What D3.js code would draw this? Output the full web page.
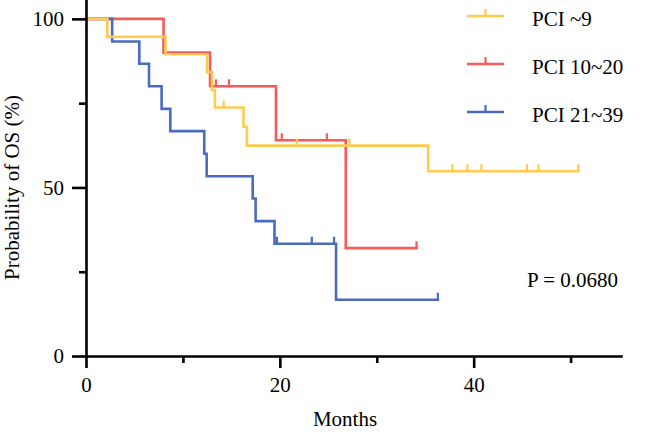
<!DOCTYPE html>
<html>
<head>
<meta charset="utf-8">
<script src="https://cdn.jsdelivr.net/npm/d3@7"></script>
<style>
  html, body { margin: 0; padding: 0; background: #fff; }
  svg { display: block; }
  text { font-family: "Liberation Serif", "Times New Roman", serif; fill: #000; }
</style>
</head>
<body>
<svg id="chart" width="646" height="435"></svg>
<script>
// ---- data ----
const groups = ["PCI ~9", "PCI 10~20", "PCI 21~39"];

// PCI ~9
const timesLow = [0, 2.2, 8.2, 12.5, 13.0, 13.3, 16.25, 16.6, 35.3, 50.8];
const survLow  = [100, 94.7, 89.5, 84.2, 78.9, 73.7, 68.0, 62.4, 54.8, 54.8];
const censorLow = [14.2, 21.75, 27.2, 37.8, 39.35, 40.8, 45.5, 46.7, 50.8];

// PCI 10~20
const timesMid = [0, 8.0, 12.8, 19.6, 26.8, 34.1];
const survMid  = [100, 90, 80, 64, 32, 32];
const censorMid = [13.4, 14.75, 20.2, 24.85, 34.1];

// PCI 21~39
const timesHigh = [0, 2.7, 5.5, 6.5, 7.8, 8.7, 12.2, 12.45, 17.2, 17.5, 19.45, 25.8, 36.3];
const survHigh  = [100, 93.3, 86.7, 80, 73.3, 66.7, 60, 53.3, 46.7, 40, 33.3, 16.7, 16.7];
const censorHigh = [19.7, 23.3, 25.6, 36.3];

const xMajorTicks = [0, 20, 40];
const xMinorTicks = [10, 30, 50];
const yMajorTicks = [0, 50, 100];
const yMinorTicks = [25, 75];

const pValueText = "P = 0.0680";
const xTitle = "Months";
const yTitle = "Probability of OS (%)";

// ---- layout ----
const colors = ["#FFCB4F", "#F65A5A", "#4A6BC0"];
const svg = d3.select("#chart");

const x = d3.scaleLinear().domain([0, 55.2]).range([86, 621]);
const y = d3.scaleLinear().domain([0, 105.6]).range([356, 0]);

const series = [
  {name: groups[0], times: timesLow, surv: survLow, censor: censorLow, color: colors[0]},
  {name: groups[1], times: timesMid, surv: survMid, censor: censorMid, color: colors[1]},
  {name: groups[2], times: timesHigh, surv: survHigh, censor: censorHigh, color: colors[2]}
];

// survival level at time t (step function)
function levelAt(s, t) {
  let v = s.surv[0];
  for (let i = 0; i < s.times.length; i++) {
    if (s.times[i] <= t + 1e-9) v = s.surv[i];
  }
  return v;
}

const line = d3.line()
  .x(d => x(d[0]))
  .y(d => y(d[1]))
  .curve(d3.curveStepAfter);

// draw order: red, blue, then yellow on top
const drawOrder = [1, 2, 0];
drawOrder.forEach(i => {
  const s = series[i];
  const pts = s.times.map((t, k) => [t, s.surv[k]]);
  const g = svg.append("g");
  g.append("path")
    .attr("d", line(pts))
    .attr("fill", "none")
    .attr("stroke", s.color)
    .attr("stroke-width", 2.6)
    .attr("stroke-linejoin", "miter")
    .attr("stroke-linecap", "square");
  g.selectAll("line.censor")
    .data(s.censor)
    .enter().append("line")
    .attr("class", "censor")
    .attr("x1", d => x(d)).attr("x2", d => x(d))
    .attr("y1", d => y(levelAt(s, d)))
    .attr("y2", d => y(levelAt(s, d)) - 7)
    .attr("stroke", s.color)
    .attr("stroke-width", 2.2);
});

// ---- axes ----
const axisFont = 21;

const xAxisMajor = d3.axisBottom(x).tickValues(xMajorTicks).tickSize(12).tickPadding(9).tickSizeOuter(0);
const xAxisMinor = d3.axisBottom(x).tickValues(xMinorTicks).tickSize(7).tickFormat("").tickSizeOuter(0);
const yAxisMajor = d3.axisLeft(y).tickValues(yMajorTicks).tickSize(14).tickPadding(8).tickSizeOuter(0);
const yAxisMinor = d3.axisLeft(y).tickValues(yMinorTicks).tickSize(7).tickFormat("").tickSizeOuter(0);

function styleAxis(g) {
  g.selectAll("path, line").attr("stroke", "#000").attr("stroke-width", 2.6);
  g.selectAll("text").style("font-size", axisFont + "px").attr("fill", "#000")
    .style("font-family", '"Liberation Serif", "Times New Roman", serif');
}

const gx = svg.append("g").attr("transform", `translate(0,${y(0)})`).call(xAxisMajor).call(styleAxis);
const gx2 = svg.append("g").attr("transform", `translate(0,${y(0)})`).call(xAxisMinor).call(styleAxis);
gx2.select(".domain").remove();
const gy = svg.append("g").attr("transform", `translate(${x(0)},0)`).call(yAxisMajor).call(styleAxis);
const gy2 = svg.append("g").attr("transform", `translate(${x(0)},0)`).call(yAxisMinor).call(styleAxis);
gy2.select(".domain").remove();
svg.selectAll(".domain").attr("stroke-linecap", "square");

// axis titles
svg.append("text")
  .attr("x", 345).attr("y", 426)
  .attr("text-anchor", "middle")
  .style("font-size", axisFont + "px")
  .text(xTitle);

svg.append("text")
  .attr("transform", `translate(19,${(y(0) + y(100)) / 2}) rotate(-90)`)
  .attr("text-anchor", "middle")
  .style("font-size", axisFont + "px")
  .text(yTitle);

// p-value
svg.append("text")
  .attr("x", 527).attr("y", 287)
  .style("font-size", axisFont + "px")
  .text(pValueText);

// ---- legend ----
const legend = svg.append("g");
series.forEach((s, i) => {
  const ly = 16 + i * 48;
  legend.append("line")
    .attr("x1", 467).attr("x2", 504).attr("y1", ly).attr("y2", ly)
    .attr("stroke", s.color).attr("stroke-width", 2.6);
  legend.append("line")
    .attr("x1", 485.5).attr("x2", 485.5).attr("y1", ly).attr("y2", ly - 7)
    .attr("stroke", s.color).attr("stroke-width", 2.2);
  legend.append("text")
    .attr("x", 532).attr("y", ly + 10)
    .style("font-size", axisFont + "px")
    .text(s.name);
});
</script>
</body>
</html>
